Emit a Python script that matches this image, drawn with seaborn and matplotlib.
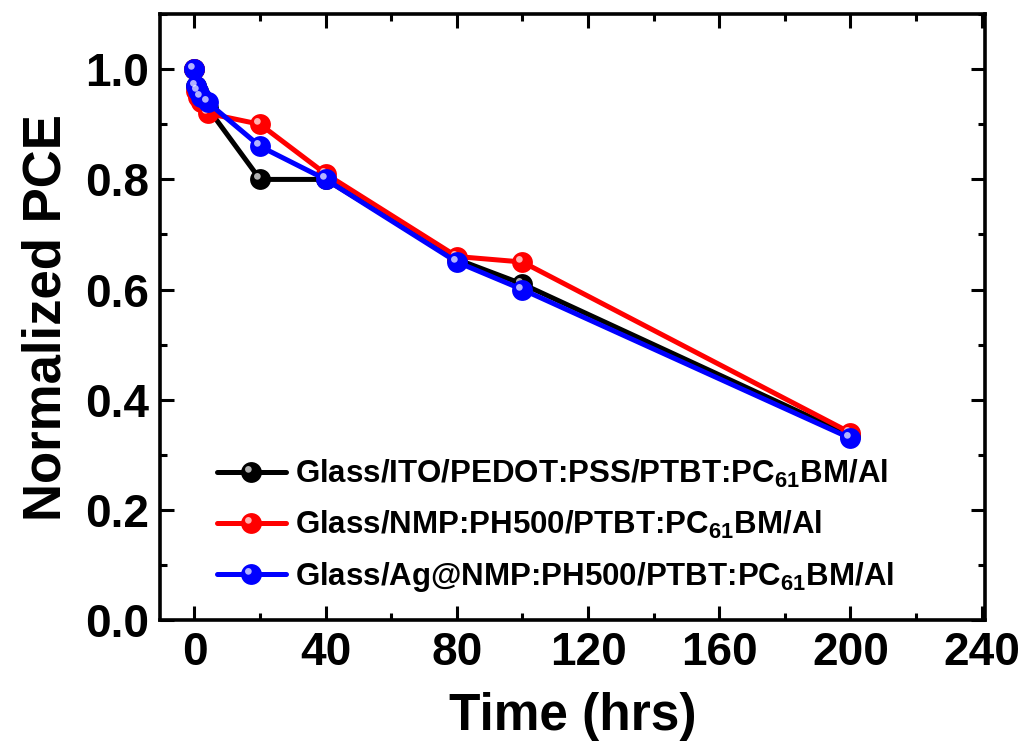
import numpy as np
import pandas as pd
import matplotlib
matplotlib.use("Agg")
import matplotlib.pyplot as plt
from matplotlib.path import Path
from matplotlib.legend_handler import HandlerTuple
from matplotlib.ticker import MultipleLocator
import seaborn as sns

# ------------------------------------------------------------
# DATA
# ------------------------------------------------------------
time_hrs = [0, 0.5, 1, 2, 4, 20, 40, 80, 100, 200]

pce_ito = [1.00, 0.97, 0.96, 0.95, 0.93, 0.80, 0.80, 0.655, 0.61, 0.335]
pce_nmp = [1.00, 0.96, 0.95, 0.94, 0.92, 0.90, 0.81, 0.66, 0.65, 0.34]
pce_ag = [1.00, 0.97, 0.96, 0.95, 0.94, 0.86, 0.80, 0.65, 0.60, 0.33]

labels = [
    r"Glass/ITO/PEDOT:PSS/PTBT:PC$_{61}$BM/Al",
    r"Glass/NMP:PH500/PTBT:PC$_{61}$BM/Al",
    r"Glass/Ag@NMP:PH500/PTBT:PC$_{61}$BM/Al",
]
colors = ["#000000", "#ff0000", "#0000ff"]

df = pd.DataFrame({
    "Time": time_hrs * 3,
    "PCE": pce_ito + pce_nmp + pce_ag,
    "Device": [labels[0]] * len(time_hrs) + [labels[1]] * len(time_hrs) + [labels[2]] * len(time_hrs),
})

# ------------------------------------------------------------
# STYLE
# ------------------------------------------------------------
sns.set_style("ticks", {"axes.edgecolor": "black", "xtick.color": "black",
                        "ytick.color": "black", "text.color": "black",
                        "axes.labelcolor": "black"})
plt.rcParams["font.family"] = ["Liberation Sans", "DejaVu Sans"]
plt.rcParams["font.weight"] = "bold"
plt.rcParams["mathtext.fontset"] = "custom"
plt.rcParams["mathtext.rm"] = "Liberation Sans:bold"
plt.rcParams["mathtext.default"] = "rm"

# shiny highlight marker: small circle up-left inside a unit box
circ = Path.circle(center=(-0.3, 0.3), radius=0.32)
verts = np.vstack([[[-1, -1]], [[1, 1]], circ.vertices])
codes = [Path.MOVETO, Path.MOVETO] + list(circ.codes)
shine = Path(verts, codes)

fig = plt.figure(figsize=(10.26, 7.47), dpi=100)
ax = fig.add_axes([0.156, 0.170, 0.804, 0.811])

handles = []
for lab, col in zip(labels, colors):
    sub = df[df["Device"] == lab]
    sns.lineplot(data=sub, x="Time", y="PCE", color=col, linewidth=3.6,
                 marker="o", markersize=15, markeredgewidth=0, ax=ax,
                 label=lab, legend=False)
    line = ax.lines[-1]
    hl, = ax.plot(sub["Time"], sub["PCE"], linestyle="none", marker=shine,
                  markersize=15, markerfacecolor="white", markeredgewidth=0,
                  alpha=0.7)
    handles.append((line, hl))

ax.set_xlim(-10.5, 241)
ax.set_ylim(0, 1.1)
ax.xaxis.set_major_locator(MultipleLocator(40))
ax.xaxis.set_minor_locator(MultipleLocator(20))
ax.yaxis.set_minor_locator(MultipleLocator(0.1))
ax.set_yticks([0, 0.2, 0.4, 0.6, 0.8, 1.0])
ax.set_yticklabels(["0.0", "0.2", "0.4", "0.6", "0.8", "1.0"])

ax.tick_params(which="both", direction="in", top=True, right=True, width=2.2,
               color="black", labelcolor="black")
ax.tick_params(which="major", length=10, labelsize=33, pad=8)
ax.tick_params(which="minor", length=5)
for lbl in ax.get_xticklabels() + ax.get_yticklabels():
    lbl.set_fontweight("bold")
for sp in ax.spines.values():
    sp.set_linewidth(2.6)
    sp.set_color("black")

ax.set_xlabel("Time (hrs)", fontsize=37, fontweight="bold", labelpad=12, color="black")
ax.set_ylabel("Normalized PCE", fontsize=38, fontweight="bold", labelpad=10, color="black")

leg = ax.legend(handles, labels, handler_map={tuple: HandlerTuple(ndivide=1)},
                loc="lower left", bbox_to_anchor=(0.05, 0.017), frameon=False,
                prop={"size": 22.5, "weight": "bold"}, handlelength=2.2,
                handletextpad=0.3, labelspacing=0.6, borderpad=0,
                labelcolor="black")

fig.savefig("out.png", dpi=100, facecolor="white")
